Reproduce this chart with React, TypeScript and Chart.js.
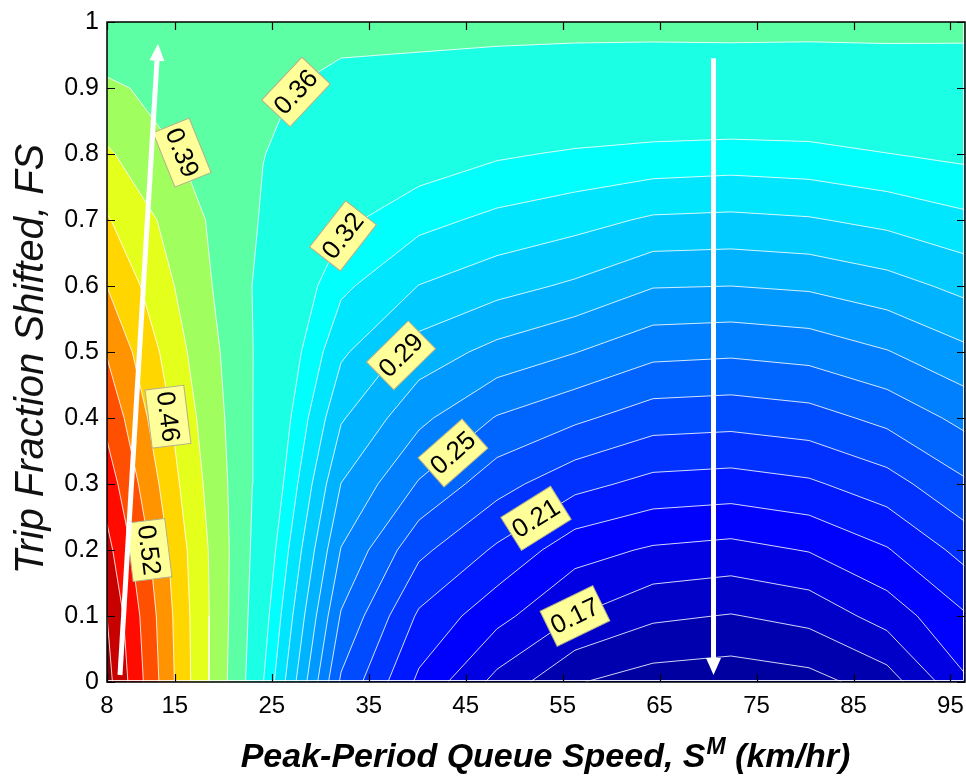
import React, { useEffect, useRef } from "react";
import { Chart, registerables } from "chart.js";

Chart.register(...registerables);

// ---------------- data ----------------
// grid of the surface: columns = peak-period queue speed, rows = trip fraction shifted
const SPEEDS = [8, 16.05, 24.09, 32.14, 40.18, 48.23, 56.27, 64.32, 72.36, 80.41, 88.45, 96.5];
const FRACTIONS = [0, 0.1, 0.2, 0.3, 0.4, 0.5, 0.6, 0.7, 0.8, 0.9, 1];

// surface values along FS = 0 ... 1 for each speed column
const Z_S08 = [0.635, 0.6233, 0.6003, 0.5743, 0.5475, 0.5209, 0.4896, 0.4596, 0.4275, 0.3954, 0.363];
const Z_S16 = [0.467, 0.465, 0.46, 0.4477, 0.437, 0.4255, 0.4128, 0.4029, 0.387, 0.377, 0.366];
const Z_S24 = [0.325, 0.331, 0.3367, 0.3424, 0.3447, 0.3468, 0.3475, 0.3537, 0.3573, 0.36, 0.364];
const Z_S32 = [0.2335, 0.247, 0.2603, 0.2734, 0.2877, 0.3012, 0.3145, 0.3275, 0.3394, 0.3513, 0.3632];
const Z_S40 = [0.1946, 0.208, 0.226, 0.247, 0.264, 0.2807, 0.2987, 0.3157, 0.3327, 0.3492, 0.363];
const Z_S48 = [0.168, 0.1887, 0.208, 0.2276, 0.2473, 0.2696, 0.2909, 0.3085, 0.3262, 0.3459, 0.363];
const Z_S56 = [0.1475, 0.172, 0.1897, 0.2141, 0.238, 0.2613, 0.2842, 0.3036, 0.3227, 0.3432, 0.363];
const Z_S64 = [0.1406, 0.1616, 0.1831, 0.2061, 0.2288, 0.2517, 0.2743, 0.2972, 0.3204, 0.3422, 0.363];
const Z_S72 = [0.1388, 0.1586, 0.1806, 0.2045, 0.2275, 0.2503, 0.2736, 0.2962, 0.319, 0.343, 0.363];
const Z_S80 = [0.142, 0.1633, 0.1854, 0.2081, 0.2304, 0.2528, 0.2755, 0.2979, 0.3203, 0.342, 0.363];
const Z_S88 = [0.153, 0.1774, 0.1964, 0.2174, 0.239, 0.2602, 0.2812, 0.3023, 0.3241, 0.3437, 0.363];
const Z_S96 = [0.183, 0.1962, 0.2146, 0.2336, 0.252, 0.2709, 0.2899, 0.3088, 0.3274, 0.3455, 0.362];

// contour levels
const LEVELS = [
  0.1466, 0.1593, 0.172, 0.1847, 0.1974, 0.2101, 0.2228, 0.2355, 0.2482, 0.2609, 0.2736, 0.2863,
  0.299, 0.3117, 0.3244, 0.3567, 0.39, 0.4233, 0.4567, 0.49, 0.5233, 0.5567, 0.59, 0.6233,
];

// inline contour labels
const LABEL_TEXT = ["0.36", "0.39", "0.32", "0.29", "0.25", "0.21", "0.17", "0.46", "0.52"];
const LABEL_SPEED = [27.49, 15.74, 32.34, 38.33, 43.69, 52.25, 56.27, 14.29, 12.33];
const LABEL_FS = [0.894, 0.802, 0.676, 0.495, 0.347, 0.248, 0.1, 0.402, 0.2];
const LABEL_ANGLE = [-46.7, 68, -52, -44.5, -41.5, -32, -26, 83, 83];

// the two white arrows (start -> tip)
const ARROW_SPEED = [[9.34, 13.26], [70.56, 70.56]];
const ARROW_FS = [[0.0106, 0.967], [0.945, 0.0106]];

// axis ticks
const X_TICKS = [8, 15, 25, 35, 45, 55, 65, 75, 85, 95];
const Y_TICKS = [0, 0.1, 0.2, 0.3, 0.4, 0.5, 0.6, 0.7, 0.8, 0.9, 1];

// colour scaling of the jet colormap
const C_MIN = 0.123;
const C_MAX = 0.625;

// ---------------- helpers ----------------
const FONT = '"Liberation Sans", Arial, Helvetica, sans-serif';

type P = { x: number; y: number };

function jet(t: number): string {
  const c = (v: number) => Math.max(0, Math.min(1, v));
  const r = c(1.5 - Math.abs(4 * t - 3));
  const g = c(1.5 - Math.abs(4 * t - 2));
  const b = c(1.5 - Math.abs(4 * t - 1));
  return `rgb(${Math.round(r * 255)},${Math.round(g * 255)},${Math.round(b * 255)})`;
}

function isolines(xs: number[], ys: number[], z: number[][], level: number): P[][] {
  const pts = new Map<string, P>();
  const adj = new Map<string, string[]>();
  const edge = (i1: number, j1: number, i2: number, j2: number): string | null => {
    const a = z[i1][j1];
    const b = z[i2][j2];
    if ((a >= level) === (b >= level)) return null;
    const key = `${i1},${j1},${i2},${j2}`;
    if (!pts.has(key)) {
      const t = (level - a) / (b - a);
      pts.set(key, { x: xs[i1] + t * (xs[i2] - xs[i1]), y: ys[j1] + t * (ys[j2] - ys[j1]) });
    }
    return key;
  };
  const link = (a: string, b: string) => {
    if (!adj.has(a)) adj.set(a, []);
    if (!adj.has(b)) adj.set(b, []);
    adj.get(a)!.push(b);
    adj.get(b)!.push(a);
  };
  for (let i = 0; i < xs.length - 1; i++) {
    for (let j = 0; j < ys.length - 1; j++) {
      const eb = edge(i, j, i + 1, j);
      const er = edge(i + 1, j, i + 1, j + 1);
      const et = edge(i, j + 1, i + 1, j + 1);
      const el = edge(i, j, i, j + 1);
      const list = [eb, er, et, el].filter((e) => e !== null) as string[];
      if (list.length === 2) link(list[0], list[1]);
      else if (list.length === 4) {
        const m = (z[i][j] + z[i + 1][j] + z[i + 1][j + 1] + z[i][j + 1]) / 4;
        if ((z[i][j] >= level) === (m >= level)) {
          link(eb as string, er as string);
          link(et as string, el as string);
        } else {
          link(eb as string, el as string);
          link(er as string, et as string);
        }
      }
    }
  }
  const seen = new Set<string>();
  const chains: P[][] = [];
  const walk = (start: string) => {
    const keys = [start];
    seen.add(start);
    let cur = start;
    for (;;) {
      const next = adj.get(cur)!.find((n) => !seen.has(n));
      if (!next) break;
      seen.add(next);
      keys.push(next);
      cur = next;
    }
    const chain = keys.map((k) => pts.get(k)!);
    if (keys.length > 2 && adj.get(cur)!.includes(start)) chain.push(chain[0]);
    chains.push(chain);
  };
  for (const [k, n] of adj) if (n.length === 1 && !seen.has(k)) walk(k);
  for (const k of adj.keys()) if (!seen.has(k)) walk(k);
  return chains;
}

function buildDatasets(): any[] {
  const Z = [Z_S08, Z_S16, Z_S24, Z_S32, Z_S40, Z_S48, Z_S56, Z_S64, Z_S72, Z_S80, Z_S88, Z_S96];
  const zMin = Math.min(...Z.map((c) => Math.min(...c)));
  const LOW = -1000;
  // padded grid so that every filled region closes along the plot border
  const px = [SPEEDS[0] - 1, ...SPEEDS, SPEEDS[SPEEDS.length - 1] + 1];
  const py = [FRACTIONS[0] - 0.1, ...FRACTIONS, FRACTIONS[FRACTIONS.length - 1] + 0.1];
  const pz = px.map((_, i) =>
    py.map((__, j) =>
      i === 0 || j === 0 || i === px.length - 1 || j === py.length - 1 ? LOW : Z[i - 1][j - 1]
    )
  );
  const norm = (v: number) => (v - C_MIN) / (C_MAX - C_MIN);
  const fillLevels = [zMin - 0.01, ...LEVELS];
  const fills: any[] = [];
  fillLevels.forEach((L, k) => {
    const color = k === 0 ? jet(norm(zMin)) : jet(norm(L));
    isolines(px, py, pz, L).forEach((loop) => {
      fills.push({
        data: loop,
        fill: "shape",
        backgroundColor: color,
        borderWidth: 0,
        pointRadius: 0,
        tension: 0,
      });
    });
  });
  const lines: any[] = [];
  LEVELS.forEach((L) => {
    isolines(SPEEDS, FRACTIONS, Z, L).forEach((chain) => {
      lines.push({
        data: chain,
        fill: false,
        borderColor: "rgba(255,255,255,0.92)",
        borderWidth: 0.9,
        pointRadius: 0,
        tension: 0,
      });
    });
  });
  // later datasets are filled first -> put low levels last
  return [...lines, ...fills.reverse()];
}

function drawArrow(ctx: CanvasRenderingContext2D, x0: number, y0: number, x1: number, y1: number) {
  const ang = Math.atan2(y1 - y0, x1 - x0);
  const HL = 17;
  const HW = 15;
  const bx = x1 - HL * Math.cos(ang);
  const by = y1 - HL * Math.sin(ang);
  ctx.strokeStyle = "#fff";
  ctx.lineWidth = 5;
  ctx.lineCap = "butt";
  ctx.beginPath();
  ctx.moveTo(x0, y0);
  ctx.lineTo(bx, by);
  ctx.stroke();
  ctx.fillStyle = "#fff";
  ctx.beginPath();
  ctx.moveTo(x1, y1);
  ctx.lineTo(bx + (HW / 2) * Math.sin(ang), by - (HW / 2) * Math.cos(ang));
  ctx.lineTo(bx - (HW / 2) * Math.sin(ang), by + (HW / 2) * Math.cos(ang));
  ctx.closePath();
  ctx.fill();
}

const overlayPlugin = {
  id: "contourOverlay",
  afterDatasetsDraw(chart: any) {
    const { ctx, chartArea } = chart;
    const xs = chart.scales.x;
    const ys = chart.scales.y;
    ctx.save();
    ctx.beginPath();
    ctx.rect(chartArea.left, chartArea.top, chartArea.right - chartArea.left, chartArea.bottom - chartArea.top);
    ctx.clip();
    // contour labels
    ctx.font = `26px ${FONT}`;
    LABEL_TEXT.forEach((t, k) => {
      const x = xs.getPixelForValue(LABEL_SPEED[k]);
      const y = ys.getPixelForValue(LABEL_FS[k]);
      const w = ctx.measureText(t).width + 8;
      const h = 39;
      ctx.save();
      ctx.translate(x, y);
      ctx.rotate((LABEL_ANGLE[k] * Math.PI) / 180);
      ctx.fillStyle = "#FFFF99";
      ctx.fillRect(-w / 2, -h / 2, w, h);
      ctx.strokeStyle = "#b5b08a";
      ctx.lineWidth = 1;
      ctx.strokeRect(-w / 2, -h / 2, w, h);
      ctx.fillStyle = "#000";
      ctx.textAlign = "center";
      ctx.textBaseline = "middle";
      ctx.fillText(t, 0, 1);
      ctx.restore();
    });
    // arrows
    ARROW_SPEED.forEach((sx, k) => {
      drawArrow(
        ctx,
        xs.getPixelForValue(sx[0]),
        ys.getPixelForValue(ARROW_FS[k][0]),
        xs.getPixelForValue(sx[1]),
        ys.getPixelForValue(ARROW_FS[k][1])
      );
    });
    ctx.restore();

    // frame and inward ticks
    const { left, right, top, bottom } = chartArea;
    ctx.save();
    ctx.strokeStyle = "rgba(255,255,255,0.9)";
    ctx.lineWidth = 1;
    ctx.beginPath();
    ctx.moveTo(left, bottom - 1.5);
    ctx.lineTo(right - 1.5, bottom - 1.5);
    ctx.lineTo(right - 1.5, top);
    ctx.stroke();
    ctx.strokeStyle = "#000";
    ctx.lineWidth = 1.5;
    ctx.strokeRect(left, top, right - left, bottom - top);
    ctx.lineWidth = 1.2;
    ctx.beginPath();
    X_TICKS.forEach((v) => {
      const p = Math.round(xs.getPixelForValue(v)) + 0.5;
      ctx.moveTo(p, bottom);
      ctx.lineTo(p, bottom - 8);
      ctx.moveTo(p, top);
      ctx.lineTo(p, top + 8);
    });
    Y_TICKS.forEach((v) => {
      const p = Math.round(ys.getPixelForValue(v)) + 0.5;
      ctx.moveTo(left, p);
      ctx.lineTo(left + 8, p);
      ctx.moveTo(right, p);
      ctx.lineTo(right - 8, p);
    });
    ctx.stroke();
    ctx.restore();
  },
  afterDraw(chart: any) {
    const { ctx, chartArea } = chart;
    ctx.save();
    ctx.fillStyle = "#000";
    // x axis title with superscript
    const a = "Peak-Period Queue Speed, S";
    const m = "M";
    const b = " (km/hr)";
    const mainFont = `italic bold 34px ${FONT}`;
    const supFont = `italic bold 23px ${FONT}`;
    ctx.font = mainFont;
    const wa = ctx.measureText(a).width;
    const wb = ctx.measureText(b).width;
    ctx.font = supFont;
    const wm = ctx.measureText(m).width;
    const cx = (chartArea.left + chartArea.right) / 2 + 9;
    const base = 767;
    let x0 = cx - (wa + wm + wb) / 2;
    ctx.textBaseline = "alphabetic";
    ctx.textAlign = "left";
    ctx.font = mainFont;
    ctx.fillText(a, x0, base);
    x0 += wa;
    ctx.font = supFont;
    ctx.fillText(m, x0 + 1, base - 13);
    x0 += wm + 1;
    ctx.font = mainFont;
    ctx.fillText(b, x0, base);
    // y axis title
    ctx.translate(43, 359);
    ctx.rotate(-Math.PI / 2);
    ctx.font = `italic 40px ${FONT}`;
    ctx.textAlign = "center";
    ctx.fillStyle = "#111";
    ctx.fillText("Trip Fraction Shifted, FS", 0, 0);
    ctx.restore();
  },
};

export default function App() {
  const ref = useRef<HTMLCanvasElement | null>(null);
  useEffect(() => {
    if (!ref.current) return;
    const chart = new Chart(ref.current, {
      type: "line",
      data: { datasets: buildDatasets() },
      options: {
        animation: false,
        responsive: false,
        devicePixelRatio: 1,
        events: [],
        layout: { padding: { top: 22, right: 1, left: 0, bottom: 0 } },
        plugins: {
          legend: { display: false },
          tooltip: { enabled: false },
          filler: { drawTime: "beforeDatasetsDraw" },
        } as any,
        scales: {
          x: {
            type: "linear",
            min: 8,
            max: 96.5,
            grid: { display: false, drawTicks: false },
            border: { display: false },
            afterBuildTicks: (s: any) => {
              s.ticks = X_TICKS.map((v) => ({ value: v }));
            },
            afterFit: (s: any) => {
              s.height = 94;
              s.paddingLeft = 0;
              s.paddingRight = 0;
            },
            ticks: {
              autoSkip: false,
              maxRotation: 0,
              minRotation: 0,
              padding: 10,
              color: "#000",
              font: { family: FONT, size: 24 },
              callback: (v: any) => String(v),
            },
          },
          y: {
            type: "linear",
            min: 0,
            max: 1,
            grid: { display: false, drawTicks: false },
            border: { display: false },
            afterBuildTicks: (s: any) => {
              s.ticks = Y_TICKS.map((v) => ({ value: v }));
            },
            afterFit: (s: any) => {
              s.width = 107;
              s.paddingTop = 0;
              s.paddingBottom = 0;
            },
            ticks: {
              autoSkip: false,
              padding: 8,
              color: "#000",
              font: { family: FONT, size: 25 },
              callback: (v: any) => String(+Number(v).toFixed(1)),
            },
          },
        },
      } as any,
      plugins: [overlayPlugin],
    });
    return () => chart.destroy();
  }, []);
  return (
    <div style={{ position: "fixed", left: 0, top: 0, width: 966, height: 776, background: "#fff" }}>
      <canvas ref={ref} width={966} height={776} style={{ display: "block" }} />
    </div>
  );
}
